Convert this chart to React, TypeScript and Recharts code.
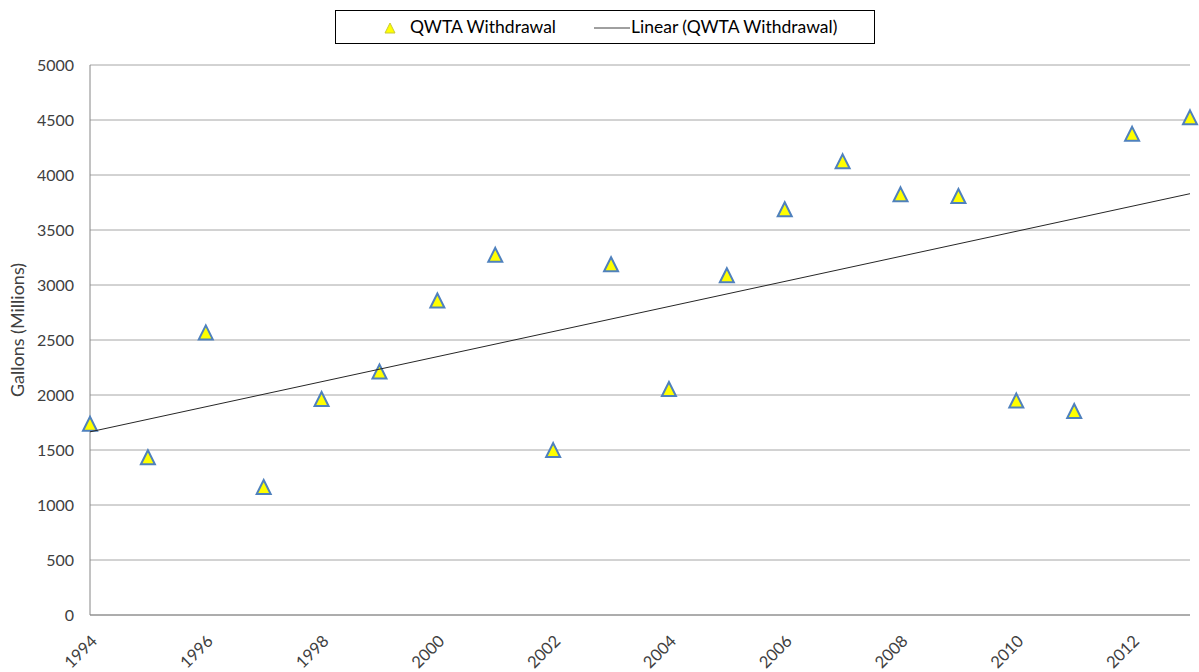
import React from "react"
import {
  ScatterChart,
  Scatter,
  XAxis,
  YAxis,
  CartesianGrid,
  Legend,
} from "recharts"

// values
const years = [
  1994, 1995, 1996, 1997, 1998, 1999, 2000, 2001, 2002, 2003,
  2004, 2005, 2006, 2007, 2008, 2009, 2010, 2011, 2012, 2013,
]
const withdrawal = [
  1730, 1425, 2560, 1155, 1955, 2205, 2850, 3265, 1490, 3180,
  2045, 3080, 3680, 4115, 3815, 3800, 1940, 1845, 4365, 4515,
]
const trendYears = [1994, 2013]
const trendValues = [1665, 3830]

const xTicks = [1994, 1996, 1998, 2000, 2002, 2004, 2006, 2008, 2010, 2012]
const yTicks = [0, 500, 1000, 1500, 2000, 2500, 3000, 3500, 4000, 4500, 5000]

const points = years.map((year, i) => ({ year, value: withdrawal[i] }))
const trend = trendYears.map((year, i) => ({ year, value: trendValues[i] }))

const FONT = "Lato, 'Open Sans', sans-serif"
const TEXT = "#404040"

function Triangle(props: any) {
  const { cx, cy } = props
  if (cx == null || cy == null) return null
  const s = 7
  return (
    <path
      d={`M${cx},${cy - s - 1} L${cx + s},${cy + s - 1} L${cx - s},${cy + s - 1} Z`}
      fill="#FFFF00"
      stroke="#4F81BD"
      strokeWidth={2}
      strokeLinejoin="miter"
    />
  )
}

function XTick(props: any) {
  const { x, y, payload } = props
  const tx = x + 4
  const ty = y + 15
  return (
    <text
      x={tx}
      y={ty}
      transform={`rotate(-45, ${tx}, ${ty})`}
      textAnchor="end"
      dominantBaseline="central"
      fontSize={16.5}
      fontFamily={FONT}
      fill={TEXT}
    >
      {payload.value}
    </text>
  )
}

function YLabel() {
  return (
    <text
      x={17}
      y={330}
      transform="rotate(-90, 17, 330)"
      textAnchor="middle"
      dominantBaseline="central"
      fontSize={18}
      fontFamily={FONT}
      fill={TEXT}
    >
      Gallons (Millions)
    </text>
  )
}

function LegendBox() {
  const txt: React.CSSProperties = { position: "absolute", top: 6, lineHeight: "20px" }
  return (
    <div
      style={{
        position: "relative",
        boxSizing: "border-box",
        width: 540,
        height: 34,
        border: "1px solid #000",
        fontFamily: FONT,
        fontSize: 17.5,
        color: "#000",
        background: "#fff",
      }}
    >
      <svg width={14} height={14} style={{ position: "absolute", left: 47, top: 10 }}>
        <path d="M7,2 L12,12 L2,12 Z" fill="#FFFF00" stroke="#C9C93A" strokeWidth={1} />
      </svg>
      <span style={{ ...txt, left: 74 }}>QWTA Withdrawal</span>
      <svg width={36} height={10} style={{ position: "absolute", left: 258, top: 12 }}>
        <line x1={0} y1={5} x2={36} y2={5} stroke="#404040" strokeWidth={1} />
      </svg>
      <span style={{ ...txt, left: 295 }}>Linear (QWTA Withdrawal)</span>
    </div>
  )
}

export default function App() {
  return (
    <div style={{ position: "absolute", left: 0, top: 0, background: "#fff" }}>
      <ScatterChart
        width={1199}
        height={672}
        margin={{ top: 31, right: 9, left: 0, bottom: 0 }}
      >
        <CartesianGrid
          vertical={false}
          stroke="#A6A6A6"
          strokeWidth={1}
        />
        <XAxis
          type="number"
          dataKey="year"
          domain={[1994, 2013]}
          ticks={xTicks}
          interval={0}
          tick={<XTick />}
          tickLine={false}
          axisLine={{ stroke: "#868686" }}
          height={57}
        />
        <YAxis
          type="number"
          dataKey="value"
          domain={[0, 5000]}
          ticks={yTicks}
          interval={0}
          width={90}
          tickLine={false}
          tickMargin={10}
          axisLine={{ stroke: "#868686" }}
          tick={{ fill: TEXT, fontSize: 16, fontFamily: FONT }}
          label={{ content: () => <YLabel /> }}
        />
        <Legend
          verticalAlign="top"
          content={() => <LegendBox />}
          wrapperStyle={{ top: 10, left: 335, width: 540 }}
        />
        <Scatter
          name="QWTA Withdrawal"
          data={points}
          shape={<Triangle />}
          isAnimationActive={false}
        />
        <Scatter
          name="Linear (QWTA Withdrawal)"
          data={trend}
          line={{ stroke: "#262626", strokeWidth: 1 }}
          shape={() => <g />}
          isAnimationActive={false}
        />
      </ScatterChart>
    </div>
  )
}
